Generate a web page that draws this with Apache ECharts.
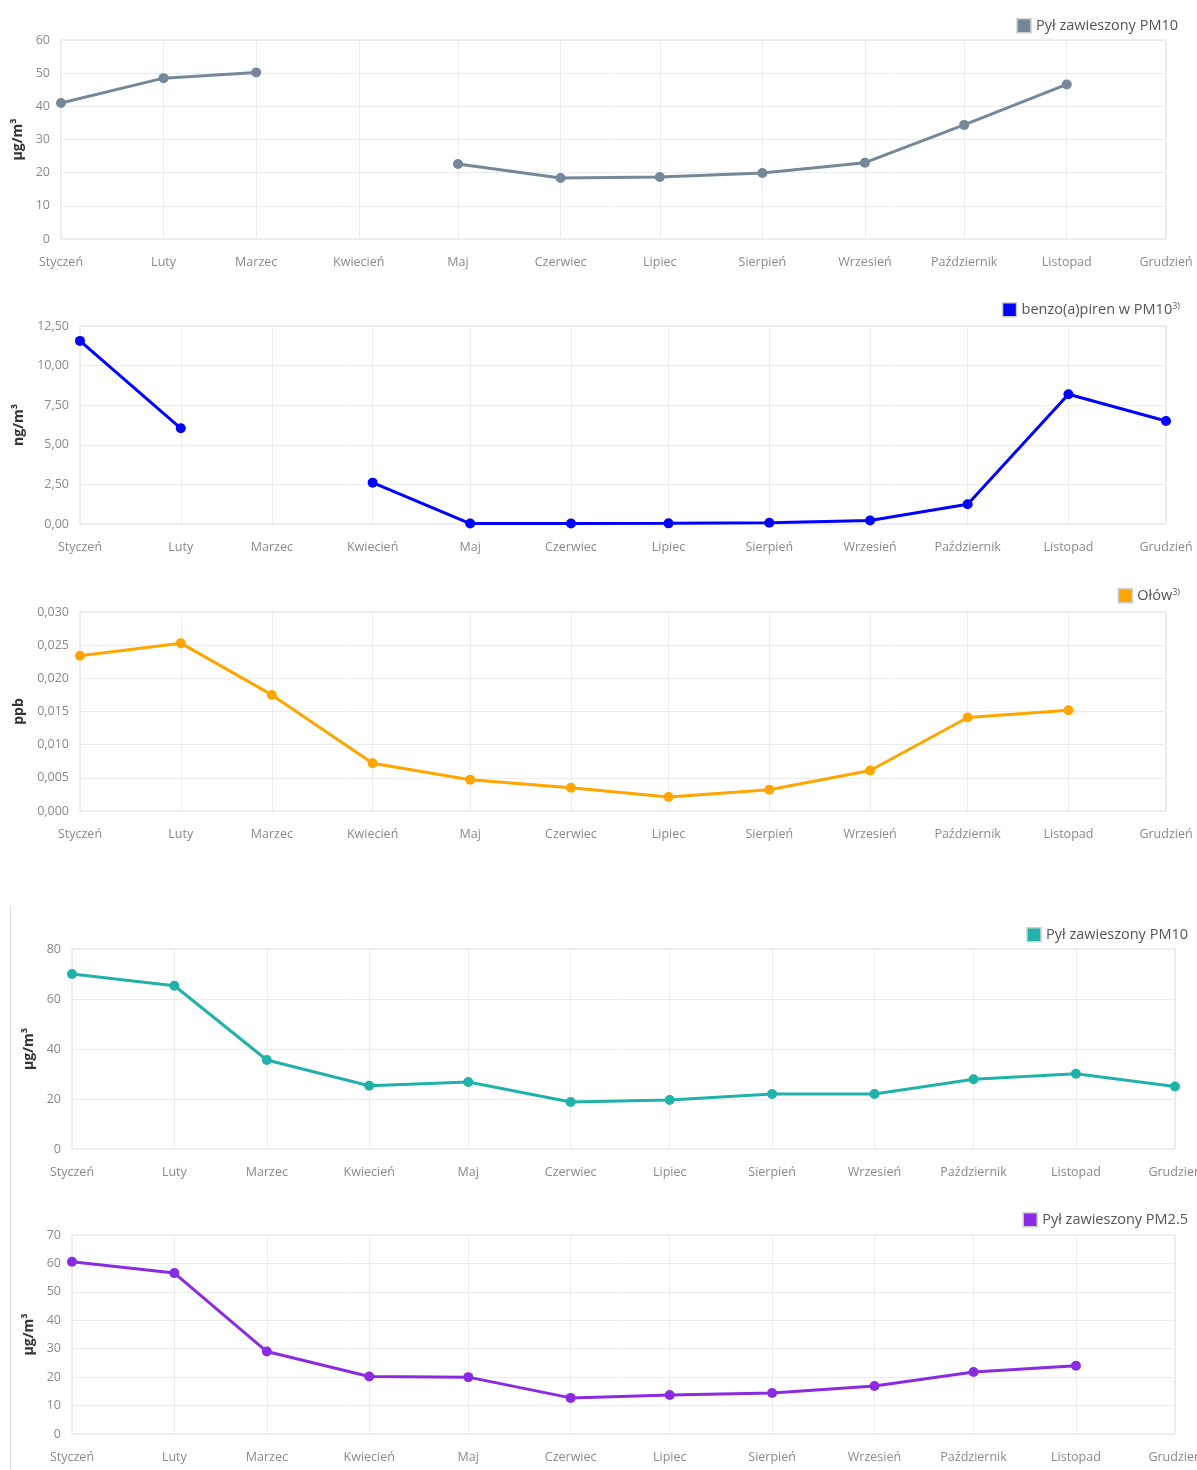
<!DOCTYPE html>
<html><head><meta charset="utf-8">
<script src="https://cdn.jsdelivr.net/npm/echarts@6/dist/echarts.min.js"></script>
<style>
html,body{margin:0;padding:0;background:#fff;}
#wrap{position:relative;width:1197px;height:1470px;overflow:hidden;}
.c{position:absolute;left:0;width:1197px;}
#frame{position:absolute;left:10px;top:906px;height:564px;border-left:1px solid #ddd;}
</style></head>
<body><div id="wrap">
<div id="c1" class="c" style="top:0;height:285px"></div>
<div id="c2" class="c" style="top:285px;height:285px"></div>
<div id="c3" class="c" style="top:570px;height:290px"></div>
<div id="frame"></div>
<div id="c4" class="c" style="top:880px;height:310px"></div>
<div id="c5" class="c" style="top:1175px;height:295px"></div>
</div>
<script>
const months = ['Styczeń','Luty','Marzec','Kwiecień','Maj','Czerwiec','Lipiec','Sierpień','Wrzesień','Październik','Listopad','Grudzień'];
const monthStarts = ['2019-01-01','2019-02-01','2019-03-01','2019-04-01','2019-05-01','2019-06-01','2019-07-01','2019-08-01','2019-09-01','2019-10-01','2019-11-01','2019-12-01'];

const pm10a = [41.0, 48.5, 50.2, null, 22.6, 18.4, 18.7, 19.9, 23.0, 34.4, 46.6, null];
const bap   = [11.56, 6.04, null, 2.61, 0.03, 0.03, 0.04, 0.08, 0.22, 1.25, 8.19, 6.5];
const olow  = [0.0234, 0.0253, 0.0175, 0.0072, 0.0047, 0.0035, 0.0021, 0.0032, 0.0061, 0.0141, 0.0152, null];
const pm10b = [70.0, 65.3, 35.6, 25.3, 26.8, 18.8, 19.6, 22.0, 22.0, 27.9, 30.1, 25.0];
const pm25  = [60.6, 56.6, 29.0, 20.2, 20.0, 12.7, 13.7, 14.4, 16.9, 21.8, 24.0, null];

const xs = monthStarts.map(d => { const p = d.split('-'); return Date.UTC(+p[0], +p[1]-1, +p[2]); });

const FONT = '"Open Sans", "Noto Sans", sans-serif';

function build(el, cfg) {
  const chart = echarts.init(document.getElementById(el), null, {renderer: 'canvas'});
  const fmt = v => cfg.dec ? v.toFixed(cfg.dec).replace('.', ',') : String(v);
  chart.setOption({
    animation: false,
    textStyle: {fontFamily: FONT},
    grid: {left: cfg.left, right: cfg.right, top: cfg.top, height: cfg.h, show: true, borderColor: '#dcdcdc', borderWidth: 1,
      containLabel: false, outerBoundsMode: 'none'},
    legend: {
      right: cfg.lr, top: cfg.lt, padding: 0, itemWidth: 14, itemHeight: 14, icon: 'rect',
      itemStyle: {borderColor: '#cfcfcf', borderWidth: 1.5},
      textStyle: {fontFamily: FONT, fontSize: 14.5, color: '#545454',
        rich: {sup: {fontSize: 9, color: '#545454', verticalAlign: 'top', lineHeight: 9, padding: [0,0,7,0]}}},
      formatter: n => cfg.sup ? n + '{sup|3)}' : n,
      data: [cfg.name]
    },
    xAxis: {
      type: 'value', min: xs[0], max: xs[xs.length-1],
      axisLine: {show: false}, axisTick: {show: false, customValues: xs},
      splitLine: {show: true, lineStyle: {color: '#ececec'}},
      axisLabel: {customValues: xs, margin: 17, fontSize: 12.5, color: '#8a8a8a', fontFamily: FONT,
        formatter: v => months[xs.indexOf(v)] || ''}
    },
    yAxis: {
      type: 'value', min: 0, max: cfg.max, interval: cfg.iv,
      name: cfg.unit, nameLocation: 'middle', nameGap: cfg.ng, nameRotate: 90,
      nameTextStyle: {fontFamily: FONT, fontSize: 14, fontWeight: 'bold', color: '#333'},
      axisLine: {show: false}, axisTick: {show: false},
      splitLine: {lineStyle: {color: '#ececec'}},
      axisLabel: {margin: 11, fontSize: 12.5, color: '#8a8a8a', fontFamily: FONT, formatter: fmt}
    },
    series: [{
      name: cfg.name, type: 'line', color: cfg.color,
      data: cfg.vals.map((v, i) => [xs[i], v]),
      symbol: 'circle', symbolSize: 10, showSymbol: true,
      lineStyle: {width: 3, color: cfg.color}, itemStyle: {color: cfg.color},
      connectNulls: false
    }]
  });
}

build('c1', {name: 'Pył zawieszony PM10', color: '#758799', vals: pm10a, max: 60, iv: 10, unit: 'µg/m³', ng: 35,
  left: 61, right: 31, top: 40, h: 199, lr: 19, lt: 18});
build('c2', {name: 'benzo(a)piren w PM10', sup: true, color: '#0000ff', vals: bap, max: 12.5, iv: 2.5, dec: 2, unit: 'ng/m³', ng: 51,
  left: 80, right: 31, top: 41, h: 198, lr: 17, lt: 17});
build('c3', {name: 'Ołów', sup: true, color: '#ffa500', vals: olow, max: 0.03, iv: 0.005, dec: 3, unit: 'ppb', ng: 54,
  left: 80, right: 31, top: 42, h: 199, lr: 17, lt: 18});
build('c4', {name: 'Pył zawieszony PM10', color: '#20b2aa', vals: pm10b, max: 80, iv: 20, unit: 'µg/m³', ng: 33,
  left: 72, right: 22, top: 69, h: 200, lr: 9, lt: 47});
build('c5', {name: 'Pył zawieszony PM2.5', color: '#8a2be2', vals: pm25, max: 70, iv: 10, unit: 'µg/m³', ng: 32,
  left: 72, right: 22, top: 60, h: 199, lr: 9, lt: 37});
</script>
</body></html>
